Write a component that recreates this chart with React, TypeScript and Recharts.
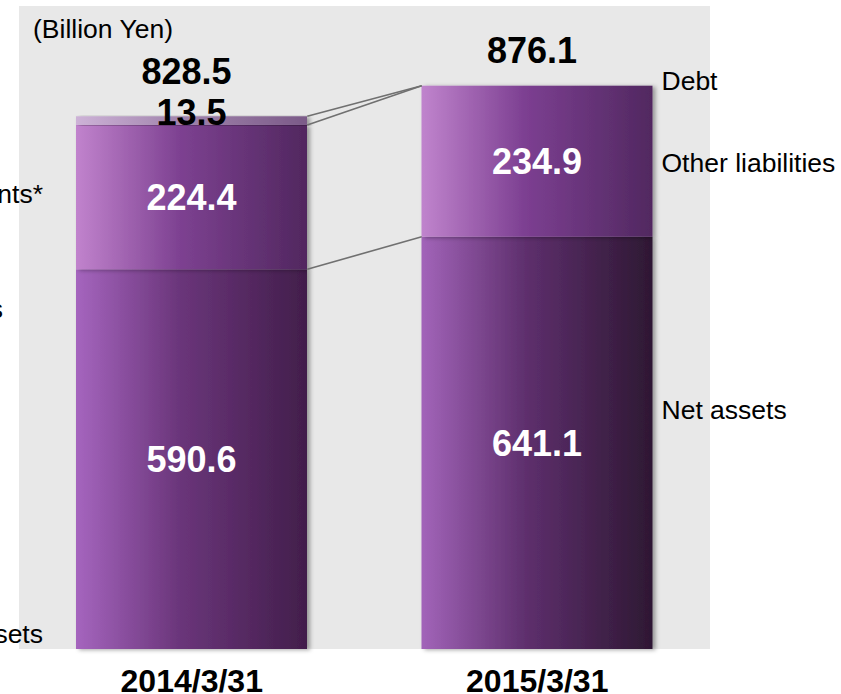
import React from "react";
import {
  ComposedChart,
  Bar,
  Cell,
  XAxis,
  YAxis,
  CartesianGrid,
  LabelList,
  ReferenceLine,
  Customized,
} from "recharts";

// Balance sheet, billion yen
const categories = ["2014/3/31", "2015/3/31"];
const netAssets = [590.6, 641.1];
const otherLiabilities = [224.4, 234.9];
const debt = [13.5, 0.1];
const totals = [828.5, 876.1];
const seriesNames = ["Net assets", "Other liabilities", "Debt"];
const assetNames = [
  "Cash and short-term investments*",
  "Other assets",
  "Fixed assets",
];

const data = categories.map((date, i) => ({
  date,
  net: netAssets[i],
  other: otherLiabilities[i],
  debt: debt[i],
  total: totals[i],
}));

const FONT = "'Liberation Sans', Arial, Helvetica, sans-serif";
const BAR_SIZE = 231;

// gradient stops per series and per bar [left, middle, right]
const gradients: Record<string, string[][]> = {
  net: [
    ["#a565be", "#6a357a", "#421e4b"],
    ["#a264b9", "#5e2f6d", "#2e1833"],
  ],
  other: [
    ["#c183cd", "#7d4191", "#51275f"],
    ["#c084cd", "#7c3f91", "#512860"],
  ],
  debt: [
    ["#cdb2d7", "#a184ad", "#7b5a88"],
    ["#cdb2d7", "#a184ad", "#7b5a88"],
  ],
};

const getBox = (props: any) => {
  const vb = props.viewBox ?? props;
  return {
    x: Number(vb.x ?? props.x),
    y: Number(vb.y ?? props.y),
    width: Number(vb.width ?? props.width),
    height: Number(vb.height ?? props.height),
  };
};

const getIndex = (props: any, x: number) =>
  props.index !== undefined ? props.index : x < 365 ? 0 : 1;

const ValueLabel = (props: any) => {
  const { x, y, width, height } = getBox(props);
  return (
    <text
      x={x + width / 2}
      y={y + height / 2}
      dy={13}
      textAnchor="middle"
      fill="#ffffff"
      fontSize={36}
      fontWeight="bold"
      fontFamily={FONT}
    >
      {props.value}
    </text>
  );
};

const DebtLabel = (props: any) => {
  const { x, y, width, height } = getBox(props);
  if (Number(props.value) < 1) return null;
  return (
    <text
      x={x + width / 2}
      y={y + height}
      textAnchor="middle"
      fill="#000000"
      fontSize={36}
      fontWeight="bold"
      fontFamily={FONT}
    >
      {props.value}
    </text>
  );
};

const TotalLabel = (props: any) => {
  const { x, y, width } = getBox(props);
  const idx = getIndex(props, x);
  const lift = debt[idx] >= 1 ? 32 : 23;
  return (
    <text
      x={x + width / 2 - 5}
      y={y - lift}
      textAnchor="middle"
      fill="#000000"
      fontSize={36}
      fontWeight="bold"
      fontFamily={FONT}
    >
      {props.value}
    </text>
  );
};

const makeSeriesLabel = (name: string, dy: number) => (props: any) => {
  const { x, y, width, height } = getBox(props);
  if (getIndex(props, x) !== 1) return null;
  return (
    <text
      x={x + width + 9}
      y={y + height / 2 + dy}
      dominantBaseline="central"
      fill="#000000"
      fontSize={26.5}
      fontFamily={FONT}
    >
      {name}
    </text>
  );
};

const DateTick = (props: any) => (
  <text
    x={props.x}
    y={props.y + 35}
    textAnchor="middle"
    fill="#000000"
    fontSize={32}
    fontWeight="bold"
    fontFamily={FONT}
  >
    {props.payload.value}
  </text>
);

const BarShape = (props: any) => (
  <rect
    x={props.x}
    y={props.y}
    width={props.width}
    height={props.height}
    fill={props.fill}
    filter="url(#barShadow)"
  />
);

// connector from bar 1's right edge to bar 2's left edge
const Connector = (props: any) => (
  <line
    x1={props.x1 + BAR_SIZE / 2}
    y1={props.y1}
    x2={props.x2 - BAR_SIZE / 2}
    y2={props.y2}
    stroke="#707070"
    strokeWidth={1.6}
  />
);

const Extras = () => (
  <g fontFamily={FONT} fontSize={26.5} fill="#000000">
    <text x={33} y={38}>(Billion Yen)</text>
    <text x={43} y={203} textAnchor="end">{assetNames[0]}</text>
    <text x={3} y={318} textAnchor="end">{assetNames[1]}</text>
    <text x={43} y={643} textAnchor="end">{assetNames[2]}</text>
  </g>
);

const stackTop = (i: number, upto: number) =>
  [netAssets[i], otherLiabilities[i], debt[i]]
    .slice(0, upto)
    .reduce((a, b) => a + b, 0);

const connectors = [3, 2, 1].map((level) => [
  { x: categories[0], y: stackTop(0, level) },
  { x: categories[1], y: stackTop(1, level) },
]);

export default function App() {
  return (
    <div style={{ position: "absolute", left: 0, top: 0 }}>
      <ComposedChart
        width={841}
        height={694}
        data={data}
        margin={{ top: 6, right: 131, bottom: 0, left: 19 }}
      >
        <defs>
          {Object.entries(gradients).map(([key, list]) =>
            list.map((stops, i) => (
              <linearGradient
                key={`${key}-${i}`}
                id={`grad-${key}-${i}`}
                x1="0"
                y1="0"
                x2="1"
                y2="0"
              >
                <stop offset="0%" stopColor={stops[0]} />
                <stop offset="45%" stopColor={stops[1]} />
                <stop offset="100%" stopColor={stops[2]} />
              </linearGradient>
            ))
          )}
          <filter id="barShadow" x="-10%" y="-10%" width="125%" height="120%">
            <feDropShadow
              dx={3}
              dy={1}
              stdDeviation={2}
              floodColor="#000000"
              floodOpacity={0.35}
            />
          </filter>
        </defs>
        <CartesianGrid
          fill="#e8e8e8"
          fillOpacity={1}
          stroke="none"
          horizontal={false}
          vertical={false}
        />
        <XAxis
          dataKey="date"
          axisLine={false}
          tickLine={false}
          height={45}
          tick={<DateTick />}
          interval={0}
        />
        <YAxis hide domain={[0, 1000]} />
        <Bar
          dataKey="net"
          stackId="bs"
          barSize={BAR_SIZE}
          shape={<BarShape />}
          isAnimationActive={false}
        >
          {data.map((_, i) => (
            <Cell key={i} fill={`url(#grad-net-${i})`} />
          ))}
          <LabelList dataKey="net" content={<ValueLabel />} />
          <LabelList dataKey="net" content={makeSeriesLabel(seriesNames[0], -33)} />
        </Bar>
        <Bar
          dataKey="other"
          stackId="bs"
          barSize={BAR_SIZE}
          shape={<BarShape />}
          isAnimationActive={false}
        >
          {data.map((_, i) => (
            <Cell key={i} fill={`url(#grad-other-${i})`} />
          ))}
          <LabelList dataKey="other" content={<ValueLabel />} />
          <LabelList dataKey="other" content={makeSeriesLabel(seriesNames[1], 2)} />
        </Bar>
        <Bar
          dataKey="debt"
          stackId="bs"
          barSize={BAR_SIZE}
          shape={<BarShape />}
          isAnimationActive={false}
        >
          {data.map((_, i) => (
            <Cell key={i} fill={`url(#grad-debt-${i})`} />
          ))}
          <LabelList dataKey="debt" content={<DebtLabel />} />
          <LabelList dataKey="total" content={<TotalLabel />} />
          <LabelList dataKey="debt" content={makeSeriesLabel(seriesNames[2], -5)} />
        </Bar>
        {connectors.map((seg, i) => (
          <ReferenceLine
            key={i}
            segment={seg}
            ifOverflow="visible"
            shape={Connector}
          />
        ))}
        <Customized component={Extras} />
      </ComposedChart>
    </div>
  );
}
